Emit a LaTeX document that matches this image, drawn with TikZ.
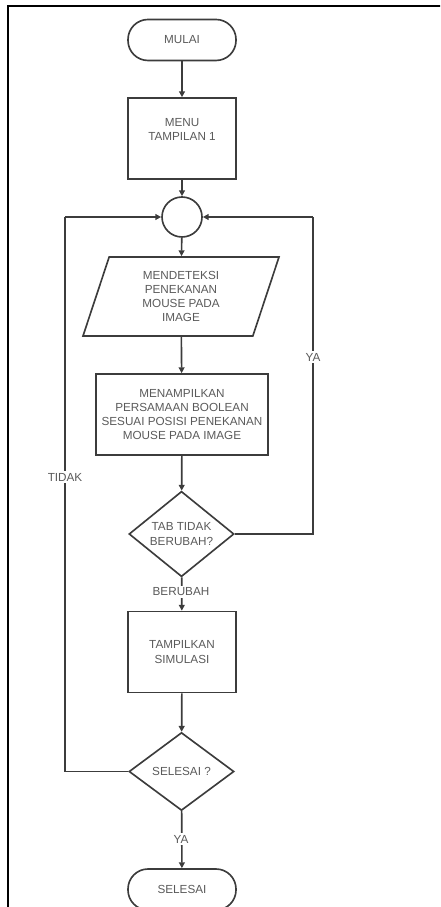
\documentclass[tikz,border=0pt]{standalone}
\usepackage{fontspec}
\setmainfont{Liberation Sans}
\usepackage{tikz}
\usetikzlibrary{arrows.meta,positioning,shapes.geometric}
\definecolor{linegray}{RGB}{60,60,60}
\definecolor{textgray}{RGB}{90,90,90}

\begin{document}
\begin{tikzpicture}[
  x=0.03cm, y=-0.03cm,
  every node/.style={font=\fontsize{10}{12}\selectfont, text=textgray},
  term/.style={rectangle, rounded corners=0.6cm, draw=linegray, line width=1.4pt,
               minimum width=3.24cm, minimum height=1.23cm, align=center},
  proc/.style={rectangle, draw=linegray, line width=1.4pt,
               minimum width=#1, minimum height=2.43cm, align=center},
  io/.style={trapezium, trapezium left angle=62.6, trapezium right angle=117.4,
             trapezium stretches body, draw=linegray, line width=1.4pt, inner sep=0pt,
             minimum width=5.88cm, minimum height=2.37cm, align=center},
  decide/.style={diamond, draw=linegray, line width=1.4pt, inner sep=0pt,
                 minimum width=3.15cm, minimum height=2.34cm, align=center},
  conn/.style={circle, draw=linegray, line width=1.4pt, minimum size=1.2cm, inner sep=0pt},
  arrow/.style={-{Triangle[length=5pt,width=5pt]}, line width=1.4pt, linegray},
  line/.style={line width=1.4pt, linegray},
  lbl/.style={fill=white, inner sep=1.5pt}
]
\useasboundingbox (0,0) rectangle (440,907);

% outer frame, cut off at right and bottom
\begin{scope}
  \clip (0,0) rectangle (440,907);
  \draw[black, line width=1.6pt] (8,6) rectangle (470,940);
\end{scope}

% Flow
\node[term]              (mulai)   at (182,40)    {MULAI};
\node[proc=3.24cm]       (menu)    at (182,138.5) {MENU\\TAMPILAN 1\\[4pt]};
\node[conn]              (titik)   at (182,217)   {};
\node[io]                (deteksi) at (181,296.5) {MENDETEKSI\\PENEKANAN\\MOUSE PADA\\IMAGE};
\node[proc=5.16cm]       (tampil)  at (182,414.5) {MENAMPILKAN\\PERSAMAAN BOOLEAN\\SESUAI POSISI PENEKANAN\\MOUSE PADA IMAGE};
\node[decide]            (tab)     at (181.5,534) {TAB TIDAK\\BERUBAH?};
\node[proc=3.24cm]       (simulasi) at (182,652)  {TAMPILKAN\\SIMULASI};
\node[decide]            (cek)     at (181.5,771.5) {SELESAI ?};
\node[term]              (selesai) at (182,889.5) {SELESAI};

% loop corners
\coordinate (kanan) at (313,217);
\coordinate (kiri)  at (65,217);

\draw[arrow] (mulai) -- (menu);
\draw[arrow] (menu) -- (titik);
\draw[arrow] (titik) -- (deteksi);
\draw[arrow] (deteksi) -- (tampil);
\draw[arrow] (tampil) -- (tab);
\draw[arrow] (tab) -- (simulasi);
\draw[arrow] (simulasi) -- (cek);
\draw[arrow] (cek) -- (selesai);
\draw[line] (tab.east) -| (kanan);
\draw[arrow] (kanan) -- (titik.east);
\draw[line] (cek.west) -| (kiri);
\draw[arrow] (kiri) -- (titik.west);

% labels on the lines
\node[lbl] (ya1)     at (313,357) {YA};
\node[lbl] (tidak)   at (65,477)  {TIDAK};
\node[lbl] (berubah) at (181,592) {BERUBAH};
\node[lbl] (ya2)     at (181,839) {YA};
\end{tikzpicture}
\end{document}
